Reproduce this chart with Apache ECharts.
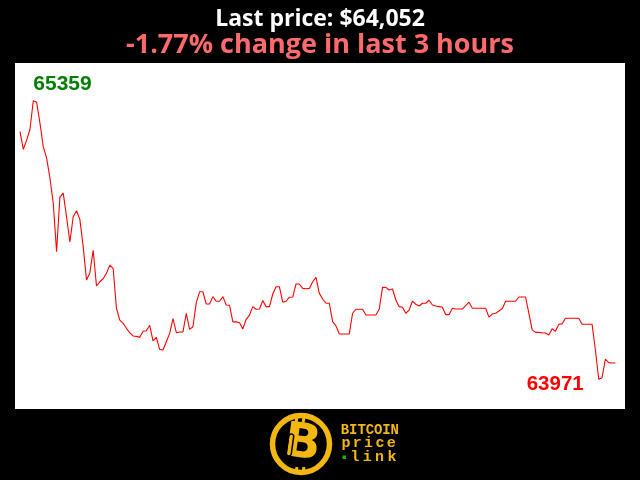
<!DOCTYPE html>
<html>
<head>
<meta charset="utf-8">
<script src="https://cdn.jsdelivr.net/npm/echarts@6/dist/echarts.min.js"></script>
<style>
html,body{margin:0;padding:0;background:#000;}
#c{width:640px;height:480px;}
</style>
</head>
<body>
<div id="c"></div>
<script>
// Prices over the last 3 hours (one per minute)
const prices = [
65205,65117,65163,65217,65359,65352,65248,65130,65074,64974,
64849,64607,64879,64899,64781,64655,64781,64811,64768,64632,
64466,64501,64614,64436,64457,64472,64499,64540,64524,64325,
64266,64250,64225,64203,64187,64185,64180,64210,64213,64240,
64162,64180,64120,64117,64158,64200,64273,64203,64207,64207,
64300,64220,64233,64353,64407,64407,64346,64346,64383,64360,
64360,64383,64341,64340,64257,64257,64253,64222,64270,64291,
64333,64320,64321,64363,64333,64333,64396,64432,64432,64355,
64360,64380,64381,64446,64446,64424,64422,64424,64457,64479,
64399,64371,64350,64350,64258,64237,64197,64197,64197,64197,
64300,64320,64320,64320,64291,64291,64291,64291,64320,64429,
64429,64416,64421,64366,64333,64330,64300,64316,64361,64345,
64336,64350,64350,64365,64341,64336,64333,64330,64293,64293,
64325,64321,64321,64321,64338,64355,64325,64325,64325,64325,
64325,64281,64296,64300,64311,64323,64360,64360,64360,64360,
64381,64381,64381,64300,64217,64205,64205,64202,64202,64192,
64223,64210,64245,64247,64275,64275,64275,64275,64275,64245,
64245,64245,64245,64117,63971,63979,64071,64054,64052,64052
];
const titleText = "Last price: $64,052";
const subText = "-1.77% change in last 3 hours";
const logoWords = ["BITCOIN", "price", "link"];

const chart = echarts.init(document.getElementById('c'), null, {renderer:'canvas'});
const gold = '#f2b711';

function spacedText(str, x0, step, y, size){
  return str.split('').map((ch,i)=>({
    type:'text', x:x0 + i*step, y:y,
    style:{text:ch, fill:gold, font:'bold '+size+'px "Liberation Mono"', textAlign:'center', textVerticalAlign:'middle'}
  }));
}

const graphics = [
  {type:'circle', shape:{cx:301, cy:444, r:28.5}, style:{fill:'#000', stroke:gold, lineWidth:5.5}},
  {type:'text', x:302, y:445, rotation:-0.14,
   style:{text:'B', fill:gold, font:'bold 48px "DejaVu Sans"', textAlign:'center', textVerticalAlign:'middle'}},
  {type:'rect', x:290, y:445, rotation:-0.14, shape:{x:-2.5, y:-11, width:5, height:22, r:2.5},
   style:{fill:'none', stroke:'#000', lineWidth:1.5}},
  {type:'line', shape:{x1:297, y1:416, x2:296, y2:423}, style:{stroke:gold, lineWidth:3}},
  {type:'line', shape:{x1:304, y1:417, x2:303, y2:423}, style:{stroke:gold, lineWidth:3}},
  {type:'line', shape:{x1:297, y1:467, x2:296, y2:472}, style:{stroke:gold, lineWidth:3}},
  {type:'line', shape:{x1:304, y1:467, x2:303, y2:472}, style:{stroke:gold, lineWidth:3}},
  {type:'rect', shape:{x:342.5, y:455.5, width:3.5, height:3.5}, style:{fill:'#1db31d'}}
].concat(spacedText(logoWords[0], 345, 8.3, 430, 14))
 .concat(spacedText(logoWords[1], 346, 11.3, 443, 15))
 .concat(spacedText(logoWords[2], 355, 12.3, 457, 15));

const option = {
  backgroundColor:'#000',
  animation:false,
  title:[
    {text:titleText, left:'center', top:3,
     textStyle:{color:'#fff', fontSize:23, fontWeight:'bold', fontFamily:'"Open Sans"'}},
    {text:subText, left:'center', top:27,
     textStyle:{color:'#ff6b6b', fontSize:27, fontWeight:'bold', fontFamily:'"Open Sans"'}}
  ],
  grid:{left:15, right:15, top:63, bottom:71, show:true, backgroundColor:'#fff', borderWidth:0},
  xAxis:{type:'value', min:-1.5, max:181.9, show:false},
  yAxis:{type:'value', min:63823, max:65547, show:false},
  series:[{
    type:'line',
    data:prices.map((v,i)=>[i,v]),
    showSymbol:false,
    lineStyle:{color:'#ff0000', width:1.1},
    itemStyle:{color:'#ff0000'},
    markPoint:{
      symbol:'circle', symbolSize:0,
      data:[
        {type:'max', label:{position:'top', align:'left', distance:6, color:'#008000'}},
        {type:'min', label:{position:'left', distance:15, offset:[0,5], color:'#ff0000', fontSize:20.5}}
      ],
      label:{show:true, formatter:(p)=>String(p.value), fontSize:21, fontWeight:'bold', fontFamily:'"Liberation Sans"'}
    }
  }],
  graphic:graphics
};
chart.setOption(option);
</script>
</body>
</html>
